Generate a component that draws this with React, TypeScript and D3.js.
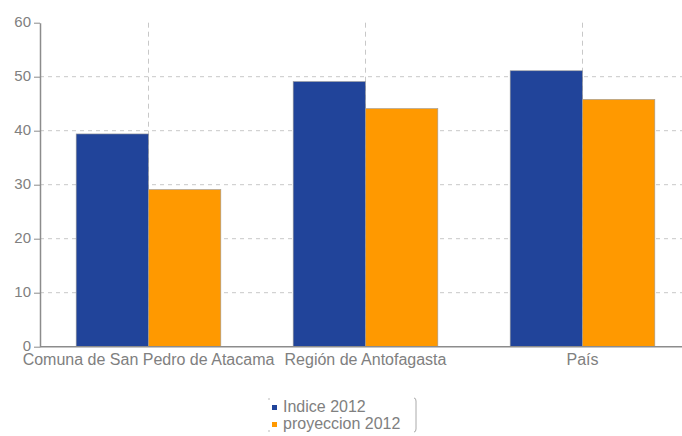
import { useEffect, useRef } from "react";
import { select, scaleBand, scaleLinear, axisLeft, axisBottom } from "d3";

const categories = ["Comuna de San Pedro de Atacama", "Región de Antofagasta", "País"];
const seriesNames = ["Indice 2012", "proyeccion 2012"];
const indice2012 = [39.4, 49.1, 51.1];
const proyeccion2012 = [29.1, 44.1, 45.8];
const yTicks = [0, 10, 20, 30, 40, 50, 60];
const colors = ["#21449a", "#ff9900"];

const width = 682;
const height = 436;

export default function App() {
  const svgRef = useRef<SVGSVGElement | null>(null);

  useEffect(() => {
    if (!svgRef.current) return;
    const svg = select(svgRef.current);
    svg.selectAll("*").remove();

    const left = 40;
    const top = 22.7;
    const bottom = 346.7;

    const x = scaleBand().domain(categories).range([left, 691]).padding(0);
    const xs = scaleBand().domain(seriesNames).range([0, x.bandwidth()]).paddingInner(0).paddingOuter(0.5);
    const y = scaleLinear().domain([0, 60]).range([bottom, top]);

    const font = "'Liberation Sans', Arial, sans-serif";

    // grid
    svg
      .append("g")
      .selectAll("line.h")
      .data(yTicks.filter((t) => t > 0 && t < 60))
      .enter()
      .append("line")
      .attr("x1", left)
      .attr("x2", width)
      .attr("y1", (d) => y(d))
      .attr("y2", (d) => y(d))
      .attr("stroke", "#c8c8c8")
      .attr("stroke-dasharray", "4,4");

    svg
      .append("g")
      .selectAll("line.v")
      .data(categories)
      .enter()
      .append("line")
      .attr("x1", (d) => (x(d) as number) + x.bandwidth() / 2)
      .attr("x2", (d) => (x(d) as number) + x.bandwidth() / 2)
      .attr("y1", top)
      .attr("y2", bottom)
      .attr("stroke", "#c8c8c8")
      .attr("stroke-dasharray", "5,4");

    // bars
    const allSeries = [indice2012, proyeccion2012];
    allSeries.forEach((vals, si) => {
      svg
        .append("g")
        .selectAll("rect")
        .data(vals)
        .enter()
        .append("rect")
        .attr("x", (_, i) => (x(categories[i]) as number) + (xs(seriesNames[si]) as number))
        .attr("y", (d) => y(d))
        .attr("width", xs.bandwidth())
        .attr("height", (d) => bottom - y(d))
        .attr("fill", colors[si])
        .attr("stroke", "#9a9a9a")
        .attr("stroke-width", 0.6);
    });

    // y axis
    const yAxis = svg
      .append("g")
      .attr("transform", `translate(${left},0)`)
      .call(axisLeft(y).tickValues(yTicks).tickSizeInner(6).tickSizeOuter(0).tickPadding(3));
    yAxis.select(".domain").attr("stroke", "#8c8c8c").attr("stroke-width", 1.5);
    yAxis.selectAll(".tick line").attr("stroke", "#8c8c8c");
    yAxis
      .selectAll(".tick text")
      .attr("fill", "#808080")
      .attr("dy", "0.25em")
      .style("font-family", font)
      .style("font-size", "15px");

    // x axis
    const xAxis = svg
      .append("g")
      .attr("transform", `translate(0,${bottom})`)
      .call(axisBottom(x).tickSize(0).tickPadding(7));
    xAxis.select(".domain").attr("stroke", "#8c8c8c").attr("stroke-width", 1.5).attr("d", `M${left},0H${width}`);
    xAxis
      .selectAll(".tick text")
      .attr("fill", "#808080")
      .style("font-family", font)
      .style("font-size", "16px");

    // legend
    const lg = svg.append("g").attr("transform", "translate(268,397)");
    lg.append("path").attr("d", "M1,1v2M1,33v2").attr("stroke", "#bbb").attr("fill", "none");
    lg.append("path").attr("d", "M146,1q2,0 2,3v28q0,3 -2,3").attr("stroke", "#aaa").attr("fill", "none");
    seriesNames.forEach((name, i) => {
      const row = lg.append("g").attr("transform", `translate(0,${10 + i * 17})`);
      row.append("rect").attr("x", 4).attr("y", -2).attr("width", 5).attr("height", 5).attr("fill", colors[i]);
      row
        .append("text")
        .attr("x", 15)
        .attr("y", 5)
        .attr("fill", "#808080")
        .style("font-family", font)
        .style("font-size", "16px")
        .text(name);
    });
  }, []);

  return (
    <svg
      ref={svgRef}
      width={width}
      height={height}
      style={{ position: "absolute", left: 0, top: 0, background: "#fff" }}
    ></svg>
  );
}
